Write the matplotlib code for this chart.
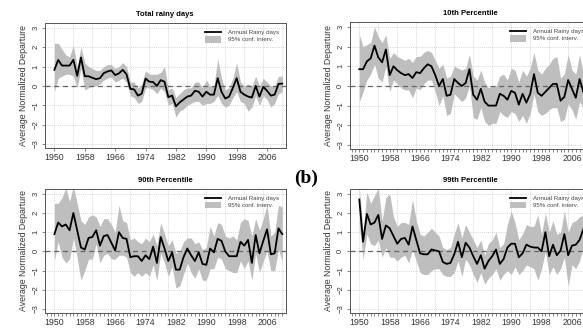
import numpy as np
import matplotlib
matplotlib.use("Agg")
import matplotlib.pyplot as plt
from matplotlib.ticker import MultipleLocator, FixedLocator

years = np.arange(1950, 2011)

titles = ["Total rainy days", "10th Percentile", "90th Percentile", "99th Percentile"]

total_mean = [0.83, 1.34, 1.05, 1.05, 1.05, 1.35, 0.52, 1.47, 0.50, 0.50,
              0.42, 0.35, 0.40, 0.66, 0.75, 0.80, 0.56, 0.65, 0.83, 0.60,
              -0.15, -0.18, -0.50, -0.40, 0.38, 0.22, 0.20, 0.00, 0.30, 0.22,
              -0.58, -0.50, -1.05, -0.85, -0.70, -0.55, -0.50, -0.25, -0.30, -0.55,
              -0.30, -0.45, -0.45, 0.40, -0.30, -0.65, -0.55, -0.10, 0.40, -0.30,
              -0.45, -0.55, -0.60, 0.00, -0.55, -0.05, -0.25, -0.50, -0.45, 0.10,
              0.12]
total_upper = [2.2, 2.2, 1.9, 1.6, 1.5, 2.1, 1.0, 2.0, 1.2, 1.0,
               0.9, 0.8, 0.8, 1.0, 1.1, 1.1, 0.9, 1.0, 1.2, 1.0,
               0.2, 0.2, -0.1, 0.1, 0.8, 0.6, 0.6, 0.6, 0.7, 1.0,
               -0.2, -0.1, -0.6, -0.4, -0.2, -0.1, -0.1, 0.2, 0.2, -0.1,
               0.3, 0.0, 0.0, 1.4, 0.4, -0.2, -0.1, 0.4, 1.2, 0.2,
               0.0, 0.1, 0.0, 0.5, 0.0, 0.4, 0.2, 0.0, 0.0, 0.5,
               0.5]
total_lower = [-0.3, 0.4, 0.5, 0.6, 0.6, 0.5, -0.1, 0.9, -0.2, -0.1,
               0.0, 0.0, 0.1, 0.3, 0.4, 0.45, 0.2, 0.3, 0.4, 0.2,
               -0.5, -0.6, -0.9, -0.8, -0.1, -0.1, -0.2, -0.4, -0.1, -0.3,
               -1.0, -0.9, -1.6, -1.3, -1.2, -1.0, -0.9, -0.8, -0.8, -1.0,
               -0.9, -0.9, -0.8, -0.5, -0.9, -1.1, -1.0, -0.6, -0.3, -0.8,
               -0.9, -1.3, -1.1, -0.5, -1.0, -0.5, -0.7, -1.1, -0.9, -0.4,
               -0.3]

p10_mean = [0.85, 0.85, 1.25, 1.4, 2.05, 1.45, 1.2, 1.85, 0.55, 1.0,
            0.8, 0.65, 0.55, 0.6, 0.4, 0.7, 0.65, 0.9, 1.1, 1.0,
            0.55, 0.0, 0.35, -0.5, -0.45, 0.35, 0.15, 0.0, 0.15, 0.85,
            -0.45, -0.7, -0.15, -0.8, -1.0, -1.0, -1.0, -0.4, -0.5, -0.7,
            -0.25, -0.35, -0.95, -0.4, -0.85, -0.4, 0.6, -0.35, -0.5, -0.3,
            -0.1, 0.1, 0.1, -0.75, -0.55, 0.3, -0.15, -0.6, 0.35, -0.3,
            0.7]
p10_upper = [2.6, 2.0, 2.1, 2.2, 3.0, 2.5, 2.2, 2.6, 1.4, 1.7,
             1.5, 1.4, 1.3, 1.4, 1.2, 1.5, 1.5, 1.7, 1.8, 1.7,
             1.3, 0.9, 1.1, 0.4, 0.5, 1.0, 0.9, 0.8, 0.9, 1.6,
             0.5, 0.3, 0.8, 0.2, -0.1, 0.0, 0.0, 0.5, 0.6, 0.3,
             0.9, 0.8, 0.2, 0.8, 0.5, 0.9, 1.7, 0.8, 0.6, 0.9,
             1.1, 1.4, 1.5, 0.4, 0.6, 1.6, 0.8, 0.6, 1.6, 0.6,
             1.4]
p10_lower = [-0.8, -0.3, 0.3, 0.6, 1.1, 0.4, 0.2, 1.0, -0.3, 0.3,
             0.1, -0.1, -0.2, -0.2, -0.6, -0.1, -0.2, 0.1, 0.3, 0.3,
             -0.3, -1.0, -0.5, -1.5, -1.4, -0.4, -0.6, -0.8, -0.6, 0.0,
             -1.6, -1.7, -1.1, -1.8, -2.0, -1.9, -1.9, -1.3, -1.5, -1.6,
             -1.3, -1.4, -1.8, -1.5, -1.9, -1.4, -0.4, -1.3, -1.5, -1.4,
             -1.2, -1.1, -1.1, -1.8, -1.7, -0.9, -1.2, -1.7, -0.8, -1.1,
             -0.5]

p90_mean = [0.9, 1.5, 1.3, 1.4, 1.1, 2.0, 1.1, 0.2, 0.1, 0.7,
            0.75, 1.1, 0.3, 0.8, 0.85, 0.45, 0.05, 1.0, 0.7, 0.65,
            -0.3, -0.25, -0.25, -0.5, -0.2, -0.4, 0.25, -0.6, 0.75, 0.15,
            -0.5, -0.05, -0.95, -0.95, -0.3, 0.15, -0.2, -0.5, -0.05, -0.65,
            -0.7, 0.15, -0.05, 0.65, 0.55, 0.0, -0.25, -0.25, -0.25, 0.5,
            0.3, 0.6, -0.6, 0.85, -0.1, 0.55, 1.15, -0.15, -0.1, 1.2,
            0.9]
p90_upper = [2.5, 2.5, 2.8, 3.3, 2.6, 3.4, 2.5, 1.6, 1.4, 1.8,
             1.9, 1.8, 1.3, 1.7, 1.7, 1.4, 1.0, 2.4, 1.6, 1.5,
             0.6, 0.7, 0.5, 0.4, 0.7, 0.5, 0.9, 0.3, 1.5, 0.9,
             0.3, 0.6, -0.1, 0.0, 0.5, 0.7, 0.7, 0.4, 0.5, 0.1,
             0.2, 1.3, 0.8, 1.5, 1.4, 0.8, 0.7, 0.8, 0.6, 1.5,
             1.7, 1.6, 0.8, 1.7, 1.1, 1.7, 2.4, 0.8, 1.0, 2.4,
             2.3]
p90_lower = [-0.5, 0.5, -0.3, -0.6, -0.4, 0.7, -0.3, -1.5, -1.0, -0.4,
             -0.4, 0.4, -0.6, -0.2, -0.1, -0.4, -0.4, -0.2, -0.2, -0.3,
             -1.1, -1.3, -1.1, -1.3, -1.1, -1.3, -0.7, -1.5, -0.1, -0.6,
             -1.3, -0.8, -1.9, -1.8, -1.2, -0.6, -1.1, -1.4, -0.9, -1.5,
             -1.5, -0.9, -0.9, -0.3, -0.4, -0.9, -1.0, -1.1, -1.1, -0.5,
             -0.9, -0.5, -1.5, -0.1, -1.1, -0.5, 0.0, -1.0, -1.0, 0.1,
             -0.5]

p99_mean = [2.7, 0.5, 1.95, 1.4, 1.5, 1.9, 0.65, 1.35, 1.2, 0.8,
            0.4, 0.65, 0.7, 0.35, 1.3, 0.6, -0.1, -0.15, -0.15, 0.1,
            0.05, 0.0, -0.55, -0.65, -0.6, -0.15, 0.5, -0.3, 0.45, 0.2,
            -0.25, -0.65, -0.2, -0.9, -0.5, -0.25, 0.1, -0.65, -0.4, 0.2,
            0.4, 0.4, -0.3, -0.1, 0.35, 0.25, 0.2, 0.2, 0.0, 1.0,
            -0.25, 0.35, -0.2, 0.05, 0.9, -0.2, 0.3, 0.35, 0.6, 1.15,
            0.65]
p99_upper = [3.3, 1.0, 3.1, 2.5, 2.9, 3.3, 1.6, 2.8, 3.0, 1.8,
             1.3, 1.5, 1.5, 1.4, 2.7, 1.6, 0.9, 0.8, 1.0, 1.2,
             1.0, 0.8, 0.2, 0.1, 0.2, 0.9, 1.5, 0.7, 1.4, 1.0,
             0.6, 0.2, 0.6, -0.2, 0.4, 0.6, 1.0, 0.2, 0.4, 1.4,
             2.1, 1.5, 0.6, 0.9, 1.4, 1.3, 1.3, 1.9, 0.9, 2.0,
             1.0, 1.6, 0.9, 1.0, 2.1, 1.0, 1.5, 1.6, 1.8, 1.9,
             1.6]
p99_lower = [1.4, -0.4, 0.9, 0.4, 0.3, 0.6, -0.3, 0.2, -0.3, -0.3,
             -0.5, -0.3, -0.2, -0.6, 0.1, -0.5, -1.1, -1.2, -1.2, -1.0,
             -0.9, -0.9, -1.2, -1.3, -1.3, -1.1, -0.5, -1.3, -0.4, -0.7,
             -1.2, -1.6, -1.1, -1.7, -1.4, -1.2, -0.9, -1.5, -1.2, -1.0,
             -1.2, -0.8, -1.2, -1.0, -0.7, -0.8, -0.9, -1.5, -0.9, 0.0,
             -1.2, -0.8, -1.2, -0.9, -0.3, -1.8, -0.7, -0.9, -0.5, 0.3,
             -0.4]

panels = [
    (total_mean, total_lower, total_upper),
    (p10_mean, p10_lower, p10_upper),
    (p90_mean, p90_lower, p90_upper),
    (p99_mean, p99_lower, p99_upper),
]

# axes rectangles in figure fraction (left, bottom, width, height)
rects = [
    (0.077, 0.549, 0.413, 0.381),
    (0.600, 0.546, 0.413, 0.387),
    (0.077, 0.046, 0.413, 0.378),
    (0.600, 0.046, 0.413, 0.378),
]

BAND = "#bebebe"
FRAME = "#555555"

plt.rcParams.update({
    "font.family": ["Liberation Sans", "DejaVu Sans"],
    "axes.edgecolor": FRAME,
    "axes.linewidth": 0.7,
    "xtick.color": FRAME,
    "ytick.color": FRAME,
})

fig = plt.figure(figsize=(5.83, 3.28), dpi=100)

for i, ((mean, lower, upper), title, rect) in enumerate(zip(panels, titles, rects)):
    ax = fig.add_axes(rect)
    band = ax.fill_between(years, lower, upper, color=BAND, lw=0, zorder=1)
    line, = ax.plot(years, mean, color="black", lw=1.3, zorder=3)
    ax.axhline(0, color="#666666", lw=0.9, ls=(0, (4, 3)), zorder=2)

    # R style grid: dotted grey lines
    for gx in range(1950, 2011, 5):
        ax.axvline(gx, color="#c8c8c8", lw=0.5, ls=(0, (1.5, 1.5)), zorder=0)
    for gy in range(-3, 4):
        ax.axhline(gy, color="#c8c8c8", lw=0.5, ls=(0, (1.5, 1.5)), zorder=0)

    ax.set_xlim(1947.5, 2010.9)
    ax.set_ylim(-3.2, 3.25)
    ax.xaxis.set_major_locator(FixedLocator(list(range(1950, 2007, 8))))
    if i > 0:
        ax.xaxis.set_minor_locator(MultipleLocator(1))
        ax.tick_params(axis="x", which="minor", length=2.5, width=0.5)
    ax.tick_params(axis="x", which="major", length=2.5, width=0.5,
                   labelsize=6.3, pad=1.5, labelcolor="#333333")
    ax.set_yticks(range(-3, 4))
    ax.tick_params(axis="y", length=2.5, width=0.5, labelsize=5.5, pad=1.5,
                   labelcolor="#333333")
    for lab in ax.get_yticklabels():
        lab.set_rotation(90)
        lab.set_va("center")

    ax.set_ylabel("Average Normalized Departure", fontsize=6.3, labelpad=3,
                  color="#333333")
    ax.set_title(title, fontsize=5.5, fontweight="bold", pad=5)

    leg = ax.legend([line, band], ["Annual Rainy days", "95% conf. interv."],
                    loc="upper right", fontsize=4.4, frameon=False,
                    handlelength=2.6, handleheight=1.2, labelspacing=0.15,
                    borderaxespad=0.6, handletextpad=1.2)
    for t in leg.get_texts():
        t.set_color("#444444")

fig.text(0.525, 0.457, "(b)", fontsize=14, fontweight="bold",
         family=["Liberation Serif", "DejaVu Serif"], ha="center", va="center")

fig.savefig("out.png", dpi=100)
